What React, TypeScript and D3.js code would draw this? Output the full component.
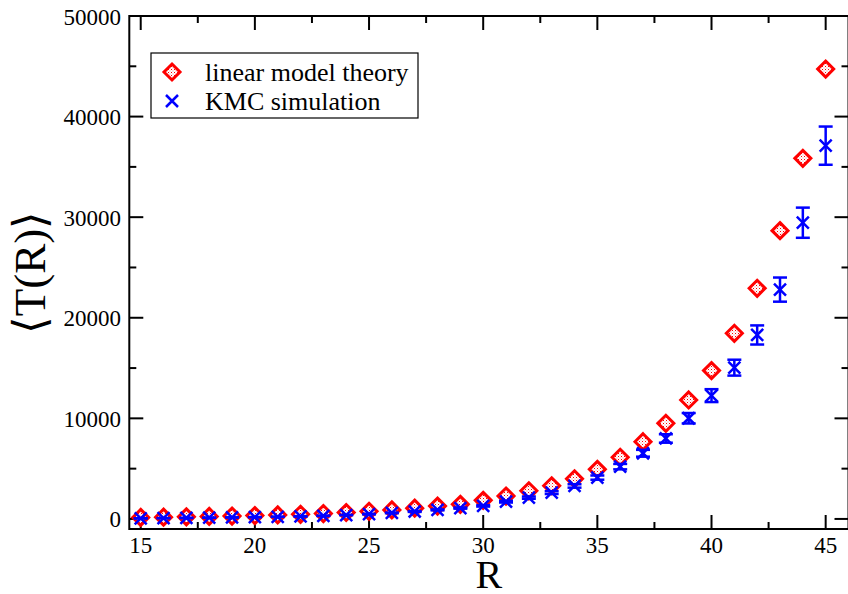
import React from "react";
import * as d3 from "d3";

const R_VALUES = [15,16,17,18,19,20,21,22,23,24,25,26,27,28,29,30,31,32,33,34,35,36,37,38,39,40,41,42,43,44,45];
const THEORY = [150,180,210,250,290,340,400,460,540,640,760,900,1070,1280,1450,1850,2280,2800,3300,3990,4930,6130,7680,9510,11830,14750,18460,22930,28660,35850,44730];
const KMC = [60,80,100,120,150,180,210,250,310,390,480,600,740,900,1080,1300,1720,2120,2620,3280,4110,5200,6530,8000,10010,12260,15040,18290,22800,29450,37110];
const KMC_ERR = [5,5,6,7,8,10,12,14,17,21,26,32,40,48,58,70,90,110,140,170,210,270,340,420,520,640,790,950,1200,1500,1900];
const X_TICKS = [15,20,25,30,35,40,45];
const X_MINOR = [17.5,22.5,27.5,32.5,37.5,42.5];
const Y_TICKS = [0,10000,20000,30000,40000,50000];
const Y_MINOR = [5000,15000,25000,35000,45000];
const LEGEND = ["linear model theory", "KMC simulation"];

const W = 848, H = 594;
const L = 129.3, RGT = 848.5, T = 16, B = 529;

export default function App() {
  const x = d3.scaleLinear().domain([14.5, 46]).range([L, RGT]);
  const y = d3.scaleLinear().domain([-1000, 50000]).range([B, T]);
  const font = "'Liberation Serif', 'Times New Roman', serif";
  const diamond = (cx: number, cy: number, r: number) =>
    `M${cx},${cy - r}L${cx + r},${cy}L${cx},${cy + r}L${cx - r},${cy}Z`;
  const cross = (cx: number, cy: number, r: number) =>
    `M${cx - r},${cy - r}L${cx + r},${cy + r}M${cx - r},${cy + r}L${cx + r},${cy - r}`;
  const MJ = 14, MN = 7;
  return (
    <svg width={W} height={H} style={{ position: "absolute", left: 0, top: 0, background: "#fff" }}>
      <defs>
        <pattern id="dots" width="3" height="3" patternUnits="userSpaceOnUse">
          <rect width="3" height="3" fill="#fff" />
          <rect width="1" height="1" fill="#ff0000" />
          <rect x="1.5" y="1.5" width="1" height="1" fill="#f88" />
        </pattern>
      </defs>
      <rect x={0} y={0} width={W} height={H} fill="#fff" />
      {/* frame */}
      <rect x={L} y={T} width={RGT - L} height={B - T} fill="none" stroke="#000" strokeWidth={2} />
      {/* x ticks */}
      {X_TICKS.map((v) => (
        <g key={"xt" + v}>
          <line x1={x(v)} x2={x(v)} y1={B} y2={B - MJ} stroke="#000" strokeWidth={2} />
          <line x1={x(v)} x2={x(v)} y1={T} y2={T + MJ} stroke="#000" strokeWidth={2} />
          <text x={x(v)} y={553} textAnchor="middle" fontFamily={font} fontSize={23}>{v}</text>
        </g>
      ))}
      {X_MINOR.map((v) => (
        <g key={"xm" + v}>
          <line x1={x(v)} x2={x(v)} y1={B} y2={B - MN} stroke="#000" strokeWidth={2} />
          <line x1={x(v)} x2={x(v)} y1={T} y2={T + MN} stroke="#000" strokeWidth={2} />
        </g>
      ))}
      {Y_TICKS.map((v) => (
        <g key={"yt" + v}>
          <line x1={L} x2={L + MJ} y1={y(v)} y2={y(v)} stroke="#000" strokeWidth={2} />
          <line x1={RGT} x2={RGT - MJ} y1={y(v)} y2={y(v)} stroke="#000" strokeWidth={2} />
          <text x={121} y={y(v) + 8.5} textAnchor="end" fontFamily={font} fontSize={23}>{v}</text>
        </g>
      ))}
      {Y_MINOR.map((v) => (
        <g key={"ym" + v}>
          <line x1={L} x2={L + MN} y1={y(v)} y2={y(v)} stroke="#000" strokeWidth={2} />
          <line x1={RGT} x2={RGT - MN} y1={y(v)} y2={y(v)} stroke="#000" strokeWidth={2} />
        </g>
      ))}
      {/* theory diamonds */}
      {R_VALUES.map((r, i) => (
        <path key={"d" + r} d={diamond(x(r), y(THEORY[i]), 8)} fill="url(#dots)" stroke="#ff0000" strokeWidth={3} />
      ))}
      {/* KMC with error bars */}
      {R_VALUES.map((r, i) => {
        const cx = x(r);
        const yt = y(KMC[i] + KMC_ERR[i]);
        const yb = y(KMC[i] - KMC_ERR[i]);
        return (
          <g key={"k" + r} stroke="#0000ff" strokeWidth={2.5} fill="none">
            <line x1={cx} x2={cx} y1={yt} y2={yb} />
            <line x1={cx - 7} x2={cx + 7} y1={yt} y2={yt} />
            <line x1={cx - 7} x2={cx + 7} y1={yb} y2={yb} />
            <path d={cross(cx, y(KMC[i]), 6)} />
          </g>
        );
      })}
      {/* legend */}
      <rect x={151} y={53} width={267} height={65} fill="#fff" stroke="#000" strokeWidth={1.2} />
      <path d={diamond(172, 72, 8)} fill="url(#dots)" stroke="#ff0000" strokeWidth={3} />
      <text x={205} y={81} fontFamily={font} fontSize={26}>{LEGEND[0]}</text>
      <path d={cross(172, 101, 6)} stroke="#0000ff" strokeWidth={2.5} fill="none" />
      <text x={205} y={110} fontFamily={font} fontSize={26}>{LEGEND[1]}</text>
      {/* axis titles */}
      <text x={(L + RGT) / 2} y={588} textAnchor="middle" fontFamily={font} fontSize={40}>R</text>
      <text transform={`translate(45,${(T + B) / 2}) rotate(-90)`} textAnchor="middle" fontFamily={font} fontSize={45}>
        {"\u27E8T(R)\u27E9"}
      </text>
    </svg>
  );
}
